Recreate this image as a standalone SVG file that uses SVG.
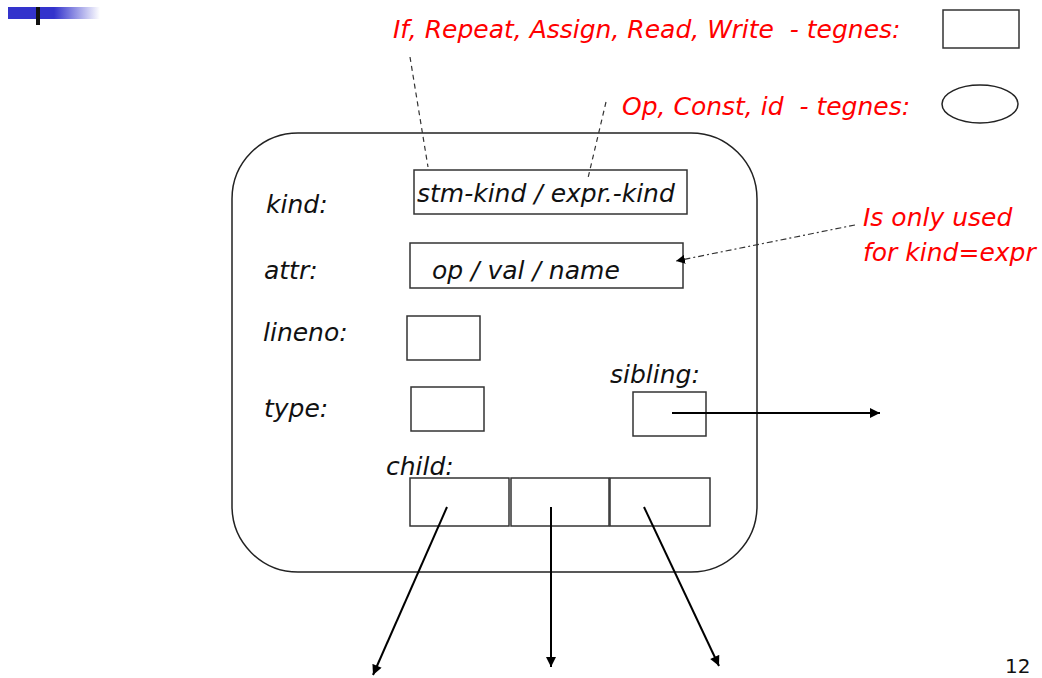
<svg xmlns="http://www.w3.org/2000/svg" width="1042" height="678" viewBox="0 0 1042 678">
<defs>
<linearGradient id="fade" x1="0" y1="0" x2="1" y2="0">
<stop offset="0" stop-color="#3333cc"/>
<stop offset="0.5" stop-color="#3333cc"/>
<stop offset="1" stop-color="#3333cc" stop-opacity="0"/>
</linearGradient>
<marker id="arr" viewBox="0 0 10 10" refX="10" refY="5" markerWidth="11" markerHeight="10" markerUnits="userSpaceOnUse" orient="auto">
<path d="M0,0 L10,5 L0,10 Z" fill="#000"/>
</marker>
<marker id="arrs" viewBox="0 0 10 10" refX="10" refY="5" markerWidth="9" markerHeight="9" markerUnits="userSpaceOnUse" orient="auto">
<path d="M0,0 L10,5 L0,10 Z" fill="#000"/>
</marker>
</defs>
<style>
.lbl{font-family:"DejaVu Sans",Verdana,sans-serif;font-style:italic;font-size:25px;fill:#111}
.red{font-family:"DejaVu Sans",Verdana,sans-serif;font-style:italic;font-size:25px;fill:#ff0000;white-space:pre}
.box{fill:#fff;stroke:#333;stroke-width:1.5}
.conn{stroke:#000;stroke-width:2;fill:none}
.dash{stroke:#333;stroke-width:1.2;fill:none;stroke-dasharray:5 4}
.dashdot{stroke:#333;stroke-width:1.2;fill:none;stroke-dasharray:6 3 2 3}
</style>
<rect width="1042" height="678" fill="#fff"/>
<g id="logo">
<rect x="8" y="7" width="92" height="12" fill="url(#fade)"/>
<rect x="36" y="7" width="4" height="18" fill="#111"/>
</g>
<g id="legend">
<text class="red" x="393" y="38" xml:space="preserve">If, Repeat, Assign, Read, Write  - tegnes:</text>
<rect class="box" x="943" y="10" width="76" height="38"/>
<text class="red" x="622" y="115" xml:space="preserve">Op, Const, id  - tegnes:</text>
<ellipse cx="980" cy="104" rx="38" ry="19" fill="#fff" stroke="#222" stroke-width="1.5"/>
<text class="red" x="863" y="226">Is only used</text>
<text class="red" x="863" y="261">for kind=expr</text>
</g>
<g id="node">
<rect x="232" y="133" width="525" height="439" rx="66" ry="66" fill="none" stroke="#222" stroke-width="1.5"/>
</g>
<g id="kind">
<text class="lbl" x="266" y="213">kind:</text>
<rect class="box" x="414" y="170" width="273" height="44"/>
<text class="lbl" x="417" y="202">stm-kind / expr.-kind</text>
</g>
<g id="attr">
<text class="lbl" x="264" y="279">attr:</text>
<rect class="box" x="410" y="243" width="273" height="45"/>
<text class="lbl" x="432" y="279">op / val / name</text>
</g>
<g id="lineno">
<text class="lbl" x="263" y="341">lineno:</text>
<rect class="box" x="407" y="316" width="73" height="44"/>
</g>
<g id="type">
<text class="lbl" x="264" y="417">type:</text>
<rect class="box" x="411" y="387" width="73" height="44"/>
</g>
<g id="sibling">
<text class="lbl" x="610" y="383">sibling:</text>
<rect class="box" x="633" y="392" width="73" height="44"/>
</g>
<g id="child">
<text class="lbl" x="386" y="475">child:</text>
<rect class="box" x="410" y="478" width="99" height="48"/>
<rect class="box" x="511" y="478" width="98" height="48"/>
<rect class="box" x="610" y="478" width="100" height="48"/>
</g>
<g id="page">
<text x="1005" y="673" font-family="DejaVu Sans,sans-serif" font-size="20" fill="#111">12</text>
</g>
<g id="connectors">
<line class="dash" x1="410" y1="57" x2="428" y2="167"/>
<line class="dash" x1="606" y1="102" x2="588" y2="178"/>
<line class="dashdot" x1="855" y1="225" x2="676" y2="261" marker-end="url(#arrs)"/>
<line class="conn" x1="672" y1="413" x2="880" y2="413" marker-end="url(#arr)"/>
<line class="conn" x1="447" y1="507" x2="373" y2="675" marker-end="url(#arr)"/>
<line class="conn" x1="551" y1="507" x2="551" y2="667" marker-end="url(#arr)"/>
<line class="conn" x1="644" y1="507" x2="719" y2="666" marker-end="url(#arr)"/>
</g>
</svg>
